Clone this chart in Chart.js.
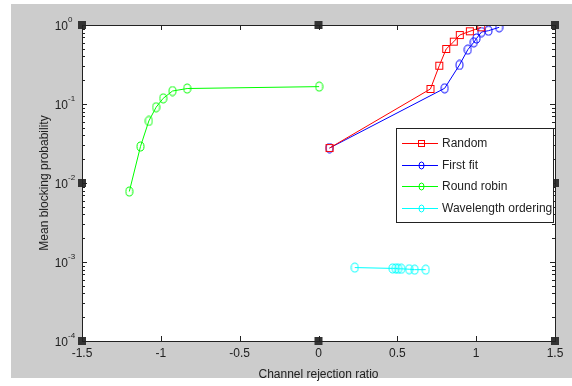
<!DOCTYPE html>
<html>
<head>
<meta charset="utf-8">
<script src="https://cdn.jsdelivr.net/npm/chart.js@4/dist/chart.umd.min.js"></script>
<style>
  body { margin: 0; background: #fff; }
  #wrap { width: 572px; height: 386px; }
</style>
</head>
<body>
<div id="wrap"><canvas id="chart"></canvas></div>
<script>
// Data
const randomX = [0.07, 0.71, 0.766, 0.81, 0.858, 0.896, 0.96, 1.032];
const randomY = [0.0277, 0.155, 0.305, 0.497, 0.615, 0.747, 0.832, 0.935];

const firstFitX = [0.07, 0.80, 0.894, 0.947, 0.985, 1.002, 1.034, 1.078, 1.146];
const firstFitY = [0.0277, 0.158, 0.312, 0.487, 0.604, 0.675, 0.815, 0.847, 0.935];

const roundRobinX = [-1.20, -1.129, -1.076, -1.03, -0.985, -0.926, -0.833, 0.004];
const roundRobinY = [0.0078, 0.029, 0.061, 0.091, 0.118, 0.146, 0.157, 0.166];

const waveX = [0.23, 0.47, 0.49, 0.505, 0.525, 0.575, 0.61, 0.68];
const waveY = [0.00085, 0.00083, 0.00083, 0.00082, 0.00082, 0.00081, 0.0008, 0.0008];

// black squares sitting on the frame
const frameX = [-1.5, 0, 1.5, -1.5, 1.5, -1.5, 0, 1.5];
const frameY = [1, 1, 1, 1e-2, 1e-2, 1e-4, 1e-4, 1e-4];

const xTicks = [-1.5, -1, -0.5, 0, 0.5, 1, 1.5];
const yExponents = [0, -1, -2, -3, -4];

const FONT = '12px "Liberation Sans", Arial, sans-serif';

function toPoints(xs, ys) {
    return xs.map((x, i) => ({ x: x, y: ys[i] }));
}

// hollow markers drawn on small canvases
function ellipseMarker(color, w, h) {
    const c = document.createElement('canvas');
    c.width = w + 2; c.height = h + 2;
    const g = c.getContext('2d');
    g.strokeStyle = color;
    g.lineWidth = 1;
    g.beginPath();
    g.ellipse(c.width / 2, c.height / 2, w / 2, h / 2, 0, 0, Math.PI * 2);
    g.stroke();
    return c;
}

function squareMarker(color, s, filled) {
    const c = document.createElement('canvas');
    c.width = s + 2; c.height = s + 2;
    const g = c.getContext('2d');
    if (filled) {
        g.fillStyle = color;
        g.fillRect(1, 1, s, s);
    } else {
        g.strokeStyle = color;
        g.lineWidth = 1;
        g.strokeRect(1.5, 1.5, s - 1, s - 1);
    }
    return c;
}

function series(label, color, xs, ys, marker, legendMarker) {
    return {
        label: label,
        data: toPoints(xs, ys),
        borderColor: color,
        backgroundColor: color,
        borderWidth: 1,
        pointStyle: marker,
        pointRadius: 5,
        showLine: true,
        tension: 0,
        legendMarker: legendMarker
    };
}

// MATLAB-style frame, inward ticks, labels and legend
const matlabAxes = {
    id: 'matlabAxes',
    beforeDraw(chart) {
        const ctx = chart.ctx;
        const a = chart.chartArea;
        ctx.save();
        ctx.fillStyle = '#fff';
        ctx.fillRect(0, 0, chart.width, chart.height);
        ctx.fillStyle = '#cccccc';
        ctx.fillRect(11, 4, chart.width - 11, 374);
        ctx.fillStyle = '#fff';
        ctx.fillRect(a.left, a.top, a.right - a.left, a.bottom - a.top);
        ctx.restore();
    },
    afterDatasetsDraw(chart) {
        const ctx = chart.ctx;
        const a = chart.chartArea;
        const xs = chart.scales.x;
        const ys = chart.scales.y;
        ctx.save();
        ctx.strokeStyle = '#222';
        ctx.lineWidth = 1;

        // ticks
        ctx.beginPath();
        xTicks.forEach(v => {
            const px = Math.round(xs.getPixelForValue(v)) + 0.5;
            ctx.moveTo(px, a.bottom); ctx.lineTo(px, a.bottom - 5);
            ctx.moveTo(px, a.top); ctx.lineTo(px, a.top + 5);
        });
        yExponents.forEach(e => {
            for (let m = 1; m <= 9; m++) {
                const v = m * Math.pow(10, e - 1);
                if (e - 1 < -4) continue;
                const py = Math.round(ys.getPixelForValue(v)) + 0.5;
                const len = m === 1 ? 5 : 3;
                ctx.moveTo(a.left, py); ctx.lineTo(a.left + len, py);
                ctx.moveTo(a.right, py); ctx.lineTo(a.right - len, py);
            }
        });
        ctx.stroke();

        // frame
        ctx.strokeRect(Math.round(a.left) + 0.5, Math.round(a.top) + 0.5,
            Math.round(a.right - a.left), Math.round(a.bottom - a.top));

        // tick labels
        ctx.fillStyle = '#222';
        ctx.font = FONT;
        ctx.textAlign = 'center';
        ctx.textBaseline = 'top';
        xTicks.forEach(v => {
            ctx.fillText(String(v), xs.getPixelForValue(v), a.bottom + 7);
        });
        yExponents.forEach(e => {
            const py = ys.getPixelForValue(Math.pow(10, e));
            ctx.font = FONT;
            ctx.textAlign = 'right';
            ctx.textBaseline = 'middle';
            ctx.fillText('10', a.left - 14, py + 2);
            ctx.font = '8px "Liberation Sans", Arial, sans-serif';
            ctx.textAlign = 'left';
            ctx.fillText(String(e), a.left - 14, py - 5);
        });

        // axis titles
        ctx.font = FONT;
        ctx.textAlign = 'center';
        ctx.textBaseline = 'middle';
        ctx.fillText('Channel rejection ratio', (a.left + a.right) / 2, 375);
        ctx.save();
        ctx.translate(45, (a.top + a.bottom) / 2);
        ctx.rotate(-Math.PI / 2);
        ctx.fillText('Mean blocking probability', 0, 0);
        ctx.restore();

        // legend
        const entries = chart.data.datasets.filter(d => d.label);
        const bx = a.right - 159, by = a.top + 103, bw = 157, bh = 94;
        ctx.fillStyle = '#fff';
        ctx.fillRect(bx, by, bw, bh);
        ctx.strokeStyle = '#222';
        ctx.strokeRect(bx + 0.5, by + 0.5, bw, bh);
        entries.forEach((d, i) => {
            const ly = Math.round(by + 15 + i * 21.7) + 0.5;
            ctx.strokeStyle = d.borderColor;
            ctx.beginPath();
            ctx.moveTo(bx + 6, ly); ctx.lineTo(bx + 42, ly);
            ctx.stroke();
            const m = d.legendMarker;
            ctx.drawImage(m, Math.round(bx + 25 - m.width / 2), Math.round(ly - m.height / 2));
            ctx.fillStyle = '#222';
            ctx.textAlign = 'left';
            ctx.textBaseline = 'middle';
            ctx.fillText(d.label, bx + 46, ly);
        });
        ctx.restore();
    }
};

const ctx = document.getElementById('chart').getContext('2d');
const chart = new Chart(ctx, {
    type: 'scatter',
    data: {
        datasets: [
            series('Random', '#ff0000', randomX, randomY,
                squareMarker('#ff0000', 8, false), squareMarker('#ff0000', 7, false)),
            series('First fit', '#0000ff', firstFitX, firstFitY,
                ellipseMarker('#0000ff', 7, 9), ellipseMarker('#0000ff', 5, 7)),
            series('Round robin', '#00ff00', roundRobinX, roundRobinY,
                ellipseMarker('#00ff00', 7, 9), ellipseMarker('#00ff00', 5, 7)),
            series('Wavelength ordering', '#00ffff', waveX, waveY,
                ellipseMarker('#00ffff', 7, 9), ellipseMarker('#00ffff', 5, 7)),
            {
                data: toPoints(frameX, frameY),
                pointStyle: squareMarker('#333', 8, true),
                showLine: false,
                clip: false
            }
        ]
    },
    options: {
        responsive: true,
        maintainAspectRatio: false,
        animation: false,
        layout: { padding: { left: 82, top: 25, right: 17, bottom: 45 } },
        scales: {
            x: { type: 'linear', min: -1.5, max: 1.5, display: false },
            y: { type: 'logarithmic', min: 1e-4, max: 1, display: false }
        },
        plugins: {
            legend: { display: false },
            tooltip: { enabled: false }
        }
    },
    plugins: [matlabAxes]
});
</script>
</body>
</html>
